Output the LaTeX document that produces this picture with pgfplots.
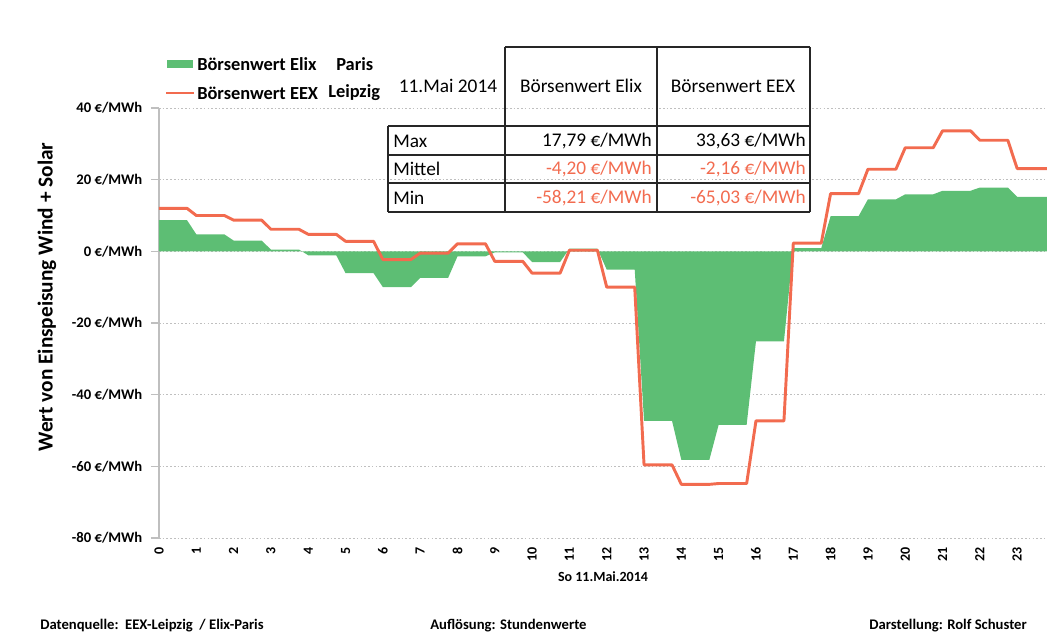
\documentclass[border=0pt]{standalone}
\usepackage{pgfplots}
\pgfplotsset{compat=1.18}
\usepackage{fontspec}
\setmainfont{Carlito}
\definecolor{elix}{HTML}{5DBE74}
\definecolor{eex}{HTML}{F26B4F}
\definecolor{gridc}{HTML}{BFBFBF}

% hourly values, each hour held flat from h to h+0.75
\pgfplotstableread{
h     elix    eex
0     8.7     12.0
0.75  8.7     12.0
1     4.75    10.0
1.75  4.75    10.0
2     3.0     8.7
2.75  3.0     8.7
3     0.5     6.15
3.75  0.5     6.15
4     -1.1    4.75
4.75  -1.1    4.75
5     -6.1    2.8
5.75  -6.1    2.8
6     -10.0   -2.3
6.75  -10.0   -2.3
7     -7.4    -0.5
7.75  -7.4    -0.5
8     -1.4    2.1
8.75  -1.4    2.1
9     -0.3    -2.8
9.75  -0.3    -2.8
10    -3.0    -6.1
10.75 -3.0    -6.1
11    0.75    0.3
11.75 0.75    0.3
12    -5.1    -10.0
12.75 -5.1    -10.0
13    -47.3   -59.6
13.75 -47.3   -59.6
14    -58.21  -65.03
14.75 -58.21  -65.03
15    -48.4   -64.8
15.75 -48.4   -64.8
16    -25.1   -47.3
16.75 -25.1   -47.3
17    0.9     2.3
17.75 0.9     2.3
18    9.8     16.1
18.75 9.8     16.1
19    14.5    22.9
19.75 14.5    22.9
20    15.9    28.9
20.75 15.9    28.9
21    16.9    33.63
21.75 16.9    33.63
22    17.79   31.0
22.75 17.79   31.0
23    15.2    23.1
23.8  15.2    23.1
}\prices

\begin{document}
\begin{tikzpicture}[x=0.75pt,y=0.75pt]
\useasboundingbox (0,0) rectangle (1047,634);
\begin{axis}[
    at={(119.25pt,72pt)}, anchor=south west,
    scale only axis, width=666pt, height=322.5pt,
    xmin=0, xmax=23.8, ymin=-80, ymax=40,
    separate axis lines,
    axis x line*=bottom, axis y line*=left,
    x axis line style={draw=none},
    y axis line style={gridc, line width=0.8pt},
    /pgf/number format/assume math mode=true,
    xtick={0,...,23},
    xtick style={draw=none},
    x tick label style={rotate=90, anchor=east, inner sep=1pt, font=\bfseries\fontsize{10.5}{12}\selectfont},
    ytick={-80,-60,-40,-20,0,20,40},
    yticklabels={-80 €/MWh,-60 €/MWh,-40 €/MWh,-20 €/MWh,0 €/MWh,20 €/MWh,40 €/MWh},
    y tick label style={xshift=-3pt, font=\bfseries\fontsize{11}{13}\selectfont},
    tick align=outside, major tick length=6pt,
    ytick style={gridc, line width=0.8pt},
    ymajorgrids,
    grid style={gridc, line width=0.7pt, dash pattern=on 1.2pt off 1.6pt},
  ]
  \addplot[draw=none, fill=elix] table[x=h, y=elix] {\prices} |- (axis cs:0,0);
  \addplot[eex, line width=2.2pt, line join=round] table[x=h, y=eex] {\prices};
\end{axis}

% y label and x title
\node[rotate=90, font=\bfseries\fontsize{16}{18}\selectfont] at (47,337) {Wert von Einspeisung Wind + Solar};
\node[font=\bfseries\fontsize{10.5}{12}\selectfont] at (603,57) {So 11.Mai.2014};

% legend
\fill[elix] (167,566) rectangle (193,574);
\draw[eex, line width=1.5pt] (166,541) -- (194,541);
\begin{scope}[font=\bfseries\fontsize{13.8}{16}\selectfont]
  \node[anchor=west, inner sep=0pt] at (197,570) {Börsenwert Elix};
  \node[anchor=west, inner sep=0pt] at (336,570) {Paris};
  \node[anchor=west, inner sep=0pt] at (197,541) {Börsenwert EEX};
  \node[anchor=west, inner sep=0pt] at (328,541) {Leipzig};
\end{scope}

% summary table
\begin{scope}[line width=0.9pt, draw=black!85]
  \draw (505,587) -- (810,587);
  \draw (505,587) -- (505,422);
  \draw (657,587) -- (657,422);
  \draw (810,587) -- (810,422);
  \draw (388,508) -- (810,508);
  \draw (388,479) -- (810,479);
  \draw (388,451) -- (810,451);
  \draw (388,422) -- (810,422);
  \draw (388,508) -- (388,422);
\end{scope}
\begin{scope}[font=\fontsize{14.5}{16}\selectfont, inner sep=0pt]
  \node at (448,548) {11.Mai 2014};
  \node at (581,548) {Börsenwert Elix};
  \node at (733,548) {Börsenwert EEX};
  \node[anchor=west] at (393,493) {Max};
  \node[anchor=west] at (393,465) {Mittel};
  \node[anchor=west] at (393,436) {Min};
  \node[anchor=east] at (652,493) {17,79 €/MWh};
  \node[anchor=east] at (806,493) {33,63 €/MWh};
  \node[anchor=east, text=eex] at (652,465) {-4,20 €/MWh};
  \node[anchor=east, text=eex] at (806,465) {-2,16 €/MWh};
  \node[anchor=east, text=eex] at (652,436) {-58,21 €/MWh};
  \node[anchor=east, text=eex] at (806,436) {-65,03 €/MWh};
\end{scope}

% footer
\begin{scope}[font=\bfseries\fontsize{11}{13}\selectfont, inner sep=0pt]
  \node[anchor=west] at (40,8) {Datenquelle:\ \ EEX-Leipzig\ \ / Elix-Paris};
  \node[anchor=west] at (430,8) {Auflösung: Stundenwerte};
  \node[anchor=east] at (1027,8) {Darstellung: Rolf Schuster};
\end{scope}
\end{tikzpicture}
\end{document}
